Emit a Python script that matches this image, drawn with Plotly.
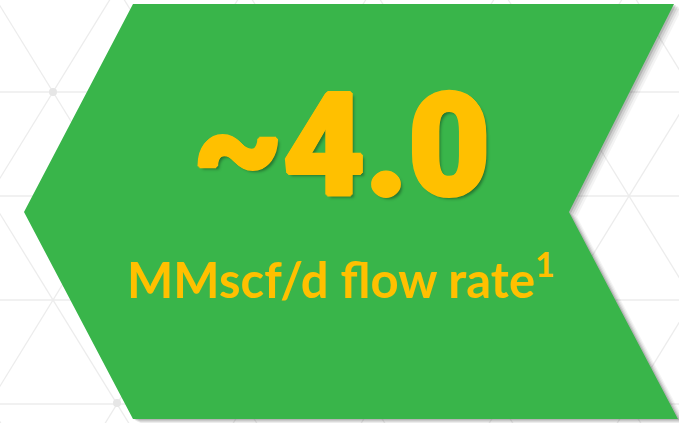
"""Infographic tile: green chevron with a headline flow-rate figure."""
import plotly.graph_objects as go

W, H = 679, 423

# data
HEADLINE_VALUE = 4.0
HEADLINE_PREFIX = "~"
UNIT_LABEL = "MMscf/d flow rate"
FOOTNOTE_MARK = "1"

GREEN = "#39B54A"
GOLD = "#FFC000"
GRID = "#ECECEC"

# chevron outline (pixel coords, y down)
CHEVRON = [(133, 4), (674, 4), (569, 212), (678, 419), (133, 419), (24, 212)]

# faint triangular lattice in the background
ROW_Y0, ROW_H, SIDE, X0 = 92, 104, 128, 53


def _path(pts, dx=0, dy=0):
    s = " L ".join(f"{x + dx},{y + dy}" for x, y in pts)
    return f"M {s} Z"


shapes = []
line_style = {"color": GRID, "width": 1.3}
for k in range(-2, 5):
    y = ROW_Y0 + k * ROW_H
    shapes.append(dict(type="line", x0=0, x1=W, y0=y, y1=y, line=line_style))
ya, yb = -40, H + 40
slope = (SIDE / 2) / ROW_H
for k in range(-8, 10):
    xv = X0 + k * SIDE
    shapes.append(dict(type="line", x0=xv + (ya - ROW_Y0) * slope, y0=ya,
                       x1=xv + (yb - ROW_Y0) * slope, y1=yb, line=line_style))
    shapes.append(dict(type="line", x0=xv - (ya - ROW_Y0) * slope, y0=ya,
                       x1=xv - (yb - ROW_Y0) * slope, y1=yb, line=line_style))
for cx, cy in [(53, 92), (117, 403)]:
    shapes.append(dict(type="circle", x0=cx - 4, x1=cx + 4, y0=cy - 4, y1=cy + 4,
                       fillcolor="#E6E6E6", line={"width": 0}))

# soft drop shadow: a few stacked offsets
for off, alpha in [(8, 0.06), (6, 0.08), (4, 0.12), (2, 0.18)]:
    shapes.append(dict(type="path", path=_path(CHEVRON, off, off * 0.6),
                       fillcolor=f"rgba(60,60,60,{alpha})", line={"width": 0}))
shapes.append(dict(type="path", path=_path(CHEVRON), fillcolor=GREEN, line={"width": 0}))

fig = go.Figure()
fig.add_trace(go.Scatter(x=[0, W], y=[0, H], mode="markers",
                         marker={"opacity": 0}, hoverinfo="skip", showlegend=False))

# extra gold text-shadows fatten the glyphs a little, last one is the drop shadow
fatten = ", ".join(f"{dx}px {dy}px 0 {GOLD}" for dx, dy in
                   [(2, 0), (-2, 0), (0, 2), (0, -2), (1, 1), (-1, -1), (1, -1), (-1, 1)])
fig.add_annotation(
    x=341, y=146, xref="x", yref="y", xanchor="center", yanchor="middle",
    text=f"{HEADLINE_PREFIX}{HEADLINE_VALUE:.1f}", showarrow=False,
    font={"family": "Roboto, sans-serif", "size": 142, "color": GOLD, "weight": 900,
          "shadow": fatten + ", 3px 3px 3px rgba(0,0,0,0.35)"},
)
fig.add_annotation(
    x=341, y=275, xref="x", yref="y", xanchor="center", yanchor="middle",
    text=f"<b>{UNIT_LABEL}<sup>{FOOTNOTE_MARK}</sup></b>", showarrow=False,
    font={"family": "Lato, sans-serif", "size": 49, "color": GOLD},
)

fig.update_layout(
    width=W, height=H,
    margin={"l": 0, "r": 0, "t": 0, "b": 0},
    paper_bgcolor="white", plot_bgcolor="white",
    xaxis={"range": [0, W], "visible": False, "fixedrange": True},
    yaxis={"range": [H, 0], "visible": False, "fixedrange": True},
    shapes=shapes,
    showlegend=False,
)
fig.write_html("out.html", config={"displayModeBar": False},
               post_script="document.body.style.margin='0';")
